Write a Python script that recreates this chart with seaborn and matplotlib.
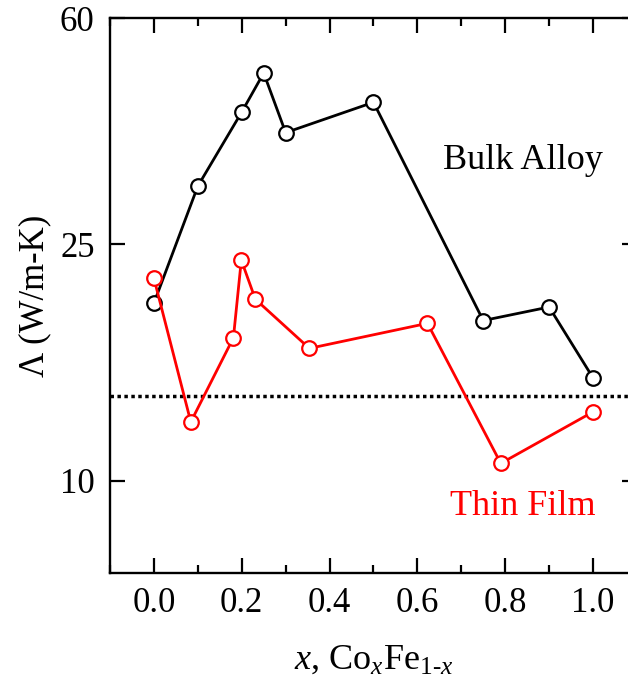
import numpy as np
import pandas as pd
import matplotlib
matplotlib.use("Agg")
import matplotlib.pyplot as plt
from matplotlib.ticker import FixedLocator, FixedFormatter, MultipleLocator, NullLocator
import seaborn as sns

# ---- data ----
bulk_x = [0.0, 0.1, 0.2, 0.25, 0.3, 0.5, 0.75, 0.9, 1.0]
bulk_y = [19.9, 31.3, 41.7, 48.5, 38.5, 43.3, 18.6, 19.6, 14.9]
film_x = [0.0, 0.084, 0.181, 0.199, 0.231, 0.354, 0.623, 0.79, 1.0]
film_y = [21.9, 12.56, 17.4, 23.5, 20.2, 16.7, 18.4, 10.7, 13.06]
ref_level = 13.9
y_ticks = [10, 25, 60]
y_ticklabels = ["10", "25", "60"]
x_ticks = [0.0, 0.2, 0.4, 0.6, 0.8, 1.0]
x_ticklabels = ["0.0", "0.2", "0.4", "0.6", "0.8", "1.0"]

sns.set_theme(style="ticks")
plt.rcParams['font.family'] = ['Liberation Serif', 'DejaVu Serif']
plt.rcParams['mathtext.fontset'] = 'custom'
plt.rcParams['mathtext.rm'] = 'Liberation Serif'
plt.rcParams['mathtext.it'] = 'Liberation Serif:italic'
plt.rcParams['text.color'] = 'black'
plt.rcParams['axes.labelcolor'] = 'black'

fig = plt.figure(figsize=(6.28, 6.83), dpi=100)
ax = fig.add_axes([0.1752, 0.1611, 0.839, 0.8125])

bulk = pd.DataFrame({"x": bulk_x, "y": bulk_y})
film = pd.DataFrame({"x": film_x, "y": film_y})

ax.axhline(ref_level, color="black", lw=2.5, ls=(0, (1, 1)), zorder=1)

mk = dict(marker="o", markersize=10.5, markerfacecolor="white", markeredgewidth=1.6)
sns.lineplot(data=bulk, x="x", y="y", ax=ax, color="black", lw=2.0,
             markeredgecolor="black", zorder=3, **mk)
sns.lineplot(data=film, x="x", y="y", ax=ax, color="#ff0000", lw=2.0,
             markeredgecolor="#ff0000", zorder=3, **mk)

ax.set_yscale("log")
ax.set_xlim(-0.1, 1.1)
ax.set_ylim(7, 60)

ax.yaxis.set_major_locator(FixedLocator(y_ticks))
ax.yaxis.set_major_formatter(FixedFormatter(y_ticklabels))
ax.yaxis.set_minor_locator(NullLocator())
ax.xaxis.set_major_locator(FixedLocator(x_ticks))
ax.xaxis.set_major_formatter(FixedFormatter(x_ticklabels))
ax.xaxis.set_minor_locator(MultipleLocator(0.1))

ax.tick_params(which="both", direction="in", top=True, right=True, width=1.6,
               colors="black", labelsize=25)
ax.tick_params(which="major", length=11)
ax.tick_params(which="minor", length=6)
ax.tick_params(axis="x", pad=10)
ax.tick_params(axis="y", pad=11)

for s in ax.spines.values():
    s.set_linewidth(1.7)
    s.set_color("black")

ax.set_xlabel(r"$x$, Co$_x$Fe$_{\mathrm{1}\text{-}x}$", fontsize=26, labelpad=17, color="black")
ax.set_ylabel("Λ (W/m-K)", fontsize=25, labelpad=6, color="black")

ax.text(0.658, 34.6, "Bulk Alloy", fontsize=26, color="black", ha="left", va="center")
ax.text(0.674, 9.05, "Thin Film", fontsize=26, color="#ff0000", ha="left", va="center")

fig.savefig("out.png", dpi=100)
